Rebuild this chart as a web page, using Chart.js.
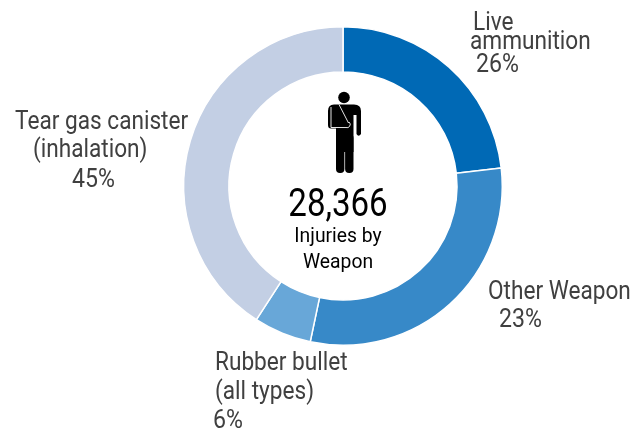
<!DOCTYPE html>
<html lang="en">
<head>
<meta charset="UTF-8">
<title>Injuries by Weapon</title>
<script src="https://cdn.jsdelivr.net/npm/chart.js@4"></script>
<style>
    html, body { margin: 0; padding: 0; background: #fff; }
    #wrap { width: 641px; height: 433px; }
</style>
</head>
<body>
<div id="wrap"><canvas id="grafico"></canvas></div>
<script>
var weapons = ['Live ammunition', 'Other Weapon', 'Rubber bullet (all types)', 'Tear gas canister (inhalation)'];
var sliceValues = [23.2, 30.1, 5.85, 40.85];
var sliceColors = ['#0069b5', '#3789c8', '#68a7d8', '#c3cfe4'];
var labelTexts = ['Live', 'ammunition', '26%', 'Other Weapon', '23%', 'Rubber bullet', '(all types)', '6%', 'Tear gas canister', '(inhalation)', '45%'];
var totalLabel = '28,366';
var centerLines = ['Injuries by', 'Weapon'];

function condensedText(ctx, text, x, y, size, color, align, squeeze) {
    ctx.save();
    ctx.font = size + 'px Roboto';
    ctx.fillStyle = color;
    ctx.textAlign = align;
    ctx.textBaseline = 'alphabetic';
    ctx.translate(x, y);
    ctx.scale(squeeze, 1);
    ctx.fillText(text, 0, 0);
    ctx.restore();
}

function drawPerson(ctx, cx, top) {
    ctx.save();
    ctx.translate(cx, top);
    ctx.fillStyle = '#000';
    // head
    ctx.beginPath();
    ctx.arc(0, 5.5, 5.8, 0, Math.PI * 2);
    ctx.fill();
    // body with both arms
    ctx.beginPath();
    ctx.moveTo(-16, 19);
    ctx.quadraticCurveTo(-16, 12.5, -10, 12.5);
    ctx.lineTo(10, 12.5);
    ctx.quadraticCurveTo(17, 12.5, 17, 19);
    ctx.lineTo(17, 42);
    ctx.quadraticCurveTo(14.5, 45.5, 12.5, 42);
    ctx.lineTo(12.5, 23);
    ctx.lineTo(9.5, 23);
    ctx.lineTo(9.5, 60);
    ctx.lineTo(-8, 60);
    ctx.lineTo(-8, 36.5);
    ctx.lineTo(-13, 36.5);
    ctx.quadraticCurveTo(-16, 36.5, -16, 33);
    ctx.closePath();
    ctx.fill();
    // legs
    ctx.beginPath();
    ctx.roundRect(-8, 42, 8.4, 39, 4);
    ctx.roundRect(1.1, 42, 8.4, 39, 4);
    ctx.fill();
    // sling
    ctx.strokeStyle = '#e4e4e4';
    ctx.lineWidth = 1;
    ctx.beginPath();
    ctx.moveTo(-5, 12.5);
    ctx.lineTo(4.5, 31);
    ctx.arc(3, 32.5, 3.2, -0.9, Math.PI * 0.6);
    ctx.lineTo(-13, 35.5);
    ctx.moveTo(-13, 15);
    ctx.lineTo(-13, 35.5);
    ctx.stroke();
    ctx.restore();
}

var textPlugin = {
    id: 'textPlugin',
    afterDraw: function(chart) {
        var ctx = chart.ctx;
        var spots = [[473, 30], [470, 49], [476, 72], [488, 299], [499, 327], [215, 370], [215, 399], [213, 428], [15, 129], [33, 157], [72, 187]];
        labelTexts.forEach(function(text, i) {
            var isShare = text.indexOf('%') >= 0;
            condensedText(ctx, text, spots[i][0], spots[i][1], isShare ? 26 : 25, '#404040', 'left', isShare ? 0.89 : 0.905);
        });
        drawPerson(ctx, 344, 92);
        condensedText(ctx, totalLabel, 338, 216, 38, '#000', 'center', 0.87);
        condensedText(ctx, centerLines[0], 338, 242, 21, '#000', 'center', 0.92);
        condensedText(ctx, centerLines[1], 338, 268, 21, '#000', 'center', 0.92);
    }
};

var data = {
    labels: weapons,
    datasets: [{
        data: sliceValues,
        backgroundColor: sliceColors,
        borderColor: '#fff',
        borderWidth: 1.5
    }]
};

var options = {
    responsive: true,
    maintainAspectRatio: false,
    animation: false,
    cutout: 114,
    layout: { padding: { left: 183, right: 138, top: 26, bottom: 87 } },
    plugins: {
        legend: { display: false },
        tooltip: { enabled: false }
    }
};

new Chart('grafico', { type: 'doughnut', data: data, options: options, plugins: [textPlugin] });
</script>
</body>
</html>
